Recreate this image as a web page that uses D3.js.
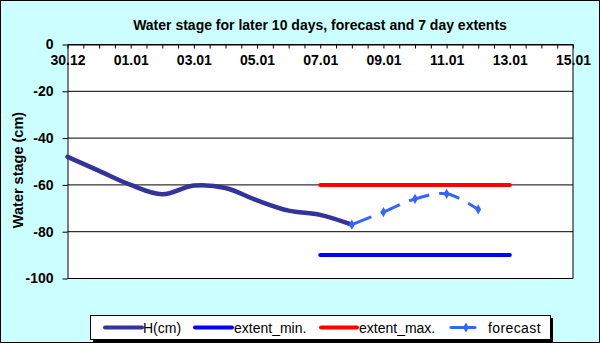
<!DOCTYPE html>
<html>
<head>
<meta charset="utf-8">
<script src="https://cdn.jsdelivr.net/npm/d3@7/dist/d3.min.js"></script>
<style>
  body { margin: 0; background: #fff; }
  svg { display: block; font-family: Arial, 'Liberation Sans', sans-serif; }
</style>
</head>
<body>
<div id="plot"></div>
<script>
'use strict';

// day labels, index 0 = 30.12
const days = ['30.12', '31.12', '01.01', '02.01', '03.01', '04.01', '05.01', '06.01', '07.01',
  '08.01', '09.01', '10.01', '11.01', '12.01', '13.01', '14.01', '15.01'];
const dayLabels = ['30.12', '01.01', '03.01', '05.01', '07.01', '09.01', '11.01', '13.01', '15.01'];
const yTicks = [0, -20, -40, -60, -80, -100];

const hDays = ['30.12', '31.12', '01.01', '02.01', '03.01', '04.01', '05.01', '06.01', '07.01', '08.01'];
const hValues = [-48, -54, -60, -64, -60.3, -61.3, -66.6, -71, -72.8, -77];

const extentDays = ['07.01', '08.01', '09.01', '10.01', '11.01', '12.01', '13.01'];
const extentMin = [-90, -90, -90, -90, -90, -90, -90];
const extentMax = [-60, -60, -60, -60, -60, -60, -60];

const forecastDays = ['08.01', '09.01', '10.01', '11.01', '12.01'];
const forecastValues = [-77, -71.6, -66, -63.8, -70.5];

const col = { h: '#333399', min: '#0000ff', max: '#ff0000', fc: '#3366ff' };

const width = 600, height = 343;
const pLeft = 67.5, pRight = 573, pTop = 44.5, pBottom = 278.5;

let svg = d3.select('#plot').append('svg')
  .attr('width', width)
  .attr('height', height);

svg.append('rect')
  .attr('x', 0.5).attr('y', 0.5)
  .attr('width', width - 1).attr('height', height - 1)
  .attr('fill', '#ccffff')
  .attr('stroke', '#000');

svg.append('rect')
  .attr('x', pLeft).attr('y', pTop)
  .attr('width', pRight - pLeft).attr('height', pBottom - pTop)
  .attr('fill', '#fff');

let x = d3.scaleLinear()
  .domain([0, days.length - 1])
  .range([pLeft, pRight]);
let y = d3.scaleLinear()
  .domain([-100, 0])
  .range([pBottom, pTop]);
let dx = d => x(days.indexOf(d));

// grid
svg.append('g')
  .selectAll('line')
  .data(yTicks)
  .enter()
  .append('line')
  .attr('x1', pLeft).attr('x2', pRight)
  .attr('y1', d => y(d)).attr('y2', d => y(d))
  .attr('stroke', '#000');
svg.append('line')
  .attr('x1', pRight).attr('x2', pRight)
  .attr('y1', pTop).attr('y2', pBottom)
  .attr('stroke', '#000');

// x axis ticks every half day, pointing into the plot
let halfTicks = d3.range(0, days.length - 0.5, 0.5);
svg.append('g')
  .attr('transform', `translate(0, ${pTop})`)
  .call(d3.axisBottom(x).tickValues(halfTicks).tickSize(4).tickFormat('').tickSizeOuter(0))
  .call(g => g.select('.domain').attr('stroke', '#000'));
svg.append('g')
  .attr('transform', `translate(0, ${pTop})`)
  .call(d3.axisBottom(x)
    .tickValues(dayLabels.map(d => days.indexOf(d)))
    .tickFormat(i => days[i])
    .tickSize(0).tickPadding(11))
  .call(g => g.select('.domain').remove())
  .selectAll('text')
  .attr('fill', '#000')
  .attr('font-size', '14px')
  .attr('font-weight', 'bold');

// y axis
svg.append('g')
  .attr('transform', `translate(${pLeft}, 0)`)
  .call(d3.axisLeft(y).tickValues(yTicks).tickFormat(d => String(d))
    .tickSize(5).tickPadding(9).tickSizeOuter(0))
  .call(g => g.select('.domain').attr('stroke', '#000'))
  .selectAll('text')
  .attr('fill', '#000')
  .attr('font-size', '14px')
  .attr('font-weight', 'bold');

svg.append('text')
  .attr('transform', `translate(23, 170) rotate(-90)`)
  .attr('text-anchor', 'middle')
  .attr('font-size', '14.5px')
  .attr('font-weight', 'bold')
  .text('Water stage (cm)');

svg.append('text')
  .attr('x', 320)
  .attr('y', 30)
  .attr('text-anchor', 'middle')
  .attr('font-size', '14px')
  .attr('font-weight', 'bold')
  .text('Water stage for later 10 days, forecast and 7 day  extents');

// series
let straight = d3.line().x(d => dx(d[0])).y(d => y(d[1]));
let smooth = d3.line().x(d => dx(d[0])).y(d => y(d[1])).curve(d3.curveCatmullRom.alpha(0.5));

svg.append('path')
  .attr('d', straight(d3.zip(extentDays, extentMin)))
  .attr('fill', 'none').attr('stroke', col.min).attr('stroke-width', 4).attr('stroke-linecap', 'round');
svg.append('path')
  .attr('d', straight(d3.zip(extentDays, extentMax)))
  .attr('fill', 'none').attr('stroke', col.max).attr('stroke-width', 4).attr('stroke-linecap', 'round');
svg.append('path')
  .attr('d', smooth(d3.zip(hDays, hValues)))
  .attr('fill', 'none').attr('stroke', col.h).attr('stroke-width', 4.5).attr('stroke-linecap', 'round');
svg.append('path')
  .attr('d', smooth(d3.zip(forecastDays, forecastValues)))
  .attr('fill', 'none').attr('stroke', col.fc).attr('stroke-width', 3)
  .attr('stroke-dasharray', '21,10');
let diamond = d3.symbol().type(d3.symbolDiamond).size(30);
svg.append('g')
  .selectAll('path')
  .data(d3.zip(forecastDays, forecastValues))
  .enter()
  .append('path')
  .attr('transform', d => `translate(${dx(d[0])}, ${y(d[1])})`)
  .attr('d', diamond)
  .attr('fill', col.fc);

// legend
let lg = svg.append('g');
lg.append('rect')
  .attr('x', 93).attr('y', 318).attr('width', 460).attr('height', 24)
  .attr('fill', '#000');
lg.append('rect')
  .attr('x', 90.5).attr('y', 315.5).attr('width', 460).attr('height', 24)
  .attr('fill', '#fff').attr('stroke', '#000');
let items = [
  { name: 'H(cm)', color: col.h, x0: 105, x1: 142, tx: 143 },
  { name: 'extent_min.', color: col.min, x0: 195, x1: 232, tx: 234 },
  { name: 'extent_max.', color: col.max, x0: 321, x1: 357, tx: 359 },
  { name: 'forecast', color: col.fc, x0: 451, x1: 475, tx: 488 }
];
items.forEach(function(it, i) {
  lg.append('line')
    .attr('x1', it.x0).attr('x2', it.x1).attr('y1', 327.5).attr('y2', 327.5)
    .attr('stroke', it.color).attr('stroke-width', i == 3 ? 3 : 4).attr('stroke-linecap', 'round');
  if (i == 3)
    lg.append('path')
      .attr('transform', 'translate(466, 327.5)')
      .attr('d', diamond)
      .attr('fill', it.color);
  lg.append('text')
    .attr('x', it.tx).attr('y', 332.5)
    .attr('font-size', '14px')
    .attr('letter-spacing', i == 3 ? '0.4px' : '0px')
    .text(it.name);
});
</script>
</body>
</html>
